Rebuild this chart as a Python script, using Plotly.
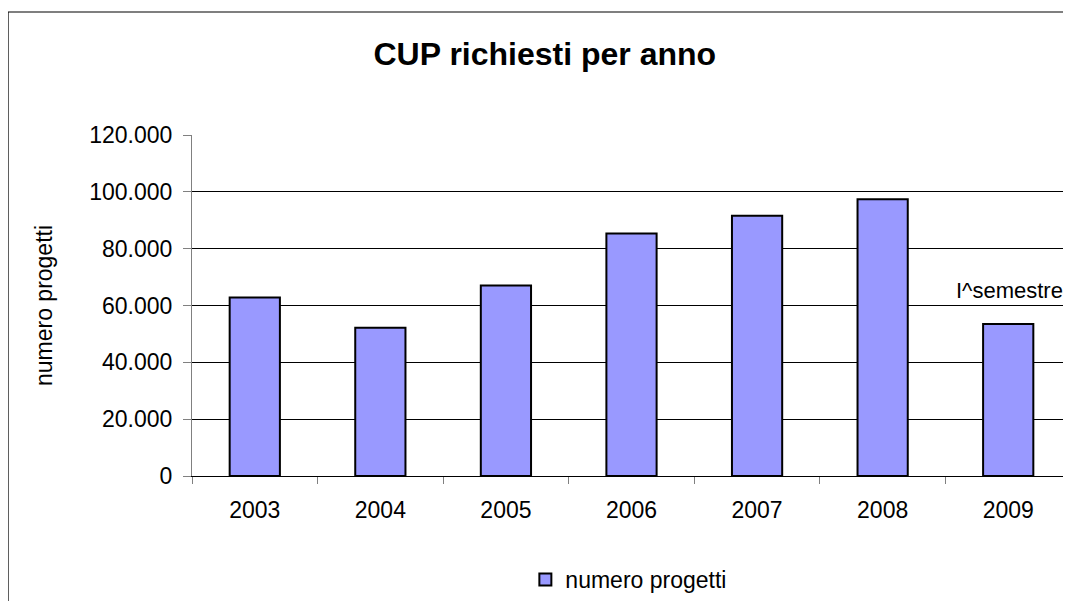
import plotly.graph_objects as go

years = ["2003", "2004", "2005", "2006", "2007", "2008", "2009"]
progetti = [62800, 52200, 67000, 85300, 91600, 97400, 53500]
y_ticks = [0, 20000, 40000, 60000, 80000, 100000, 120000]

FONT = "Liberation Sans, Arial, sans-serif"

fig = go.Figure()
fig.add_trace(go.Bar(
    x=years, y=progetti, name="numero progetti",
    marker=dict(color="#9999FF", line=dict(color="black", width=2)),
))

fig.update_layout(
    width=1063, height=593,
    margin=dict(l=184, r=0, t=127, b=125),
    paper_bgcolor="white", plot_bgcolor="white",
    separators=",.",
    bargap=0.6,
    font=dict(family=FONT, size=23, color="black"),
    title=dict(text="<b>CUP richiesti per anno</b>", x=0.505, xanchor="center",
               y=0.922, yanchor="middle", font=dict(size=32, family=FONT)),
    showlegend=True,
    legend=dict(orientation="h", x=0.497, xanchor="center", y=-0.305, yanchor="middle",
                font=dict(size=23), itemwidth=30),
    xaxis=dict(type="category", showline=True, linecolor="black", linewidth=1,
               ticks="outside", tickson="boundaries", ticklen=7, tickcolor="#808080",
               tickfont=dict(size=23), showgrid=False, ticklabelstandoff=13),
    yaxis=dict(range=[0, 120000], tickvals=y_ticks, tickformat=",d",
               showline=True, linecolor="#808080", linewidth=1,
               ticks="outside", ticklen=8, tickcolor="#808080",
               showgrid=True, gridcolor="black", gridwidth=1,
               zeroline=False, tickfont=dict(size=23), ticklabelstandoff=6,
               title=dict(text="numero progetti", font=dict(size=23), standoff=30)),
    shapes=[dict(type="rect", xref="paper", yref="paper",
                 x0=-0.2093, x1=1.2, y0=-1.0, y1=1.3607,
                 line=dict(color="black", width=1.2), fillcolor="rgba(0,0,0,0)")],
    annotations=[dict(x=0.9306, y=65400, xref="paper", yref="y", text="I^semestre",
                      showarrow=False, font=dict(size=22), xanchor="center", yanchor="middle")],
)

fig.write_html("out.html")
